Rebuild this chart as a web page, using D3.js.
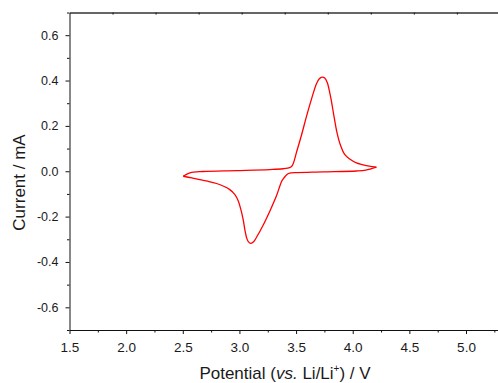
<!DOCTYPE html>
<html>
<head>
<meta charset="utf-8">
<script src="https://cdn.jsdelivr.net/npm/d3@7"></script>
<style>
    body { margin: 0; background: #fff; }
    svg { display: block; }
    text { font-family: "Liberation Sans", Arial, sans-serif; fill: #1a1a1a; }
</style>
</head>
<body>
<svg id="chart" width="498" height="383"></svg>
<script>
// Cyclic voltammogram
// anodic sweep (left tip -> right tip)
const anodicPotential = [2.504, 2.563, 2.680, 2.974, 3.268, 3.385, 3.444, 3.462, 3.476, 3.503, 3.548, 3.592, 3.636, 3.680, 3.705, 3.729, 3.753, 3.775, 3.806, 3.832, 3.859, 3.885, 3.929, 3.973, 4.033, 4.121, 4.209];
const anodicCurrent   = [-0.022, -0.007, -0.001, 0.003, 0.0075, 0.011, 0.016, 0.022, 0.035, 0.082, 0.160, 0.242, 0.318, 0.386, 0.408, 0.415, 0.411, 0.391, 0.325, 0.250, 0.175, 0.125, 0.074, 0.054, 0.037, 0.025, 0.018];

// cathodic sweep (right tip -> left tip)
const cathodicPotential = [4.209, 4.115, 4.033, 3.738, 3.503, 3.444, 3.425, 3.405, 3.385, 3.371, 3.327, 3.268, 3.209, 3.151, 3.125, 3.100, 3.078, 3.063, 3.048, 3.033, 3.010, 2.989, 2.960, 2.915, 2.860, 2.798, 2.720, 2.651, 2.580, 2.504];
const cathodicCurrent   = [0.018, 0.005, 0.001, -0.003, -0.006, -0.008, -0.012, -0.022, -0.035, -0.046, -0.108, -0.176, -0.238, -0.291, -0.311, -0.318, -0.310, -0.293, -0.258, -0.213, -0.164, -0.130, -0.103, -0.081, -0.066, -0.054, -0.044, -0.037, -0.029, -0.022];

const xTicks = [1.5, 2.0, 2.5, 3.0, 3.5, 4.0, 4.5, 5.0];
const xMinorTicks = [1.75, 2.25, 2.75, 3.25, 3.75, 4.25, 4.75, 5.25];
const yTicks = [-0.6, -0.4, -0.2, 0.0, 0.2, 0.4, 0.6];
const yMinorTicks = [-0.7, -0.5, -0.3, -0.1, 0.1, 0.3, 0.5, 0.7];

const svg = d3.select('#chart');
const plotLeft = 69.5, plotRight = 500, plotTop = 12.5, plotBottom = 330;

const x = d3.scaleLinear().domain([1.5, 5.3]).range([plotLeft, plotRight]);
const y = d3.scaleLinear().domain([-0.7, 0.7]).range([plotBottom, plotTop]);
// top frame line carries its own evenly spaced ticks
const xTop = d3.scaleLinear().domain([0, 10]).range([plotLeft, plotRight]);

// Top frame
const topAxis = svg.append('g')
    .attr('transform', `translate(0,${plotTop})`)
    .call(d3.axisBottom(xTop).tickValues(d3.range(1, 10)).tickSize(2).tickSizeOuter(0).tickFormat(''));
topAxis.select('.domain').attr('stroke', '#666').attr('stroke-width', 2);
topAxis.selectAll('.tick line').attr('stroke', '#222').attr('stroke-width', 1.2);

// Bottom axis
const xAxis = svg.append('g')
    .attr('transform', `translate(0,${plotBottom})`)
    .call(d3.axisBottom(x).tickValues(xTicks).tickSize(4).tickSizeOuter(0).tickPadding(8)
        .tickFormat(d => d.toFixed(1)));
xAxis.selectAll('text').attr('font-size', 13.5).attr('font-family', '"Liberation Sans", Arial, sans-serif').attr('fill', '#1a1a1a');
svg.append('g')
    .attr('transform', `translate(0,${plotBottom})`)
    .call(d3.axisBottom(x).tickValues(xMinorTicks).tickSize(2.5).tickFormat(''))
    .select('.domain').remove();

// Left axis
const yAxis = svg.append('g')
    .attr('transform', `translate(${plotLeft},0)`)
    .call(d3.axisLeft(y).tickValues(yTicks).tickSize(4).tickSizeOuter(0).tickPadding(7)
        .tickFormat(d => d.toFixed(1)));
yAxis.selectAll('text').attr('font-size', 12.5).attr('font-family', '"Liberation Sans", Arial, sans-serif').attr('fill', '#1a1a1a');
svg.append('g')
    .attr('transform', `translate(${plotLeft},0)`)
    .call(d3.axisLeft(y).tickValues(yMinorTicks).tickSize(2.5).tickFormat(''))
    .select('.domain').remove();

svg.selectAll('.tick line, .domain').filter(function() { return this.getAttribute('stroke') === 'currentColor'; })
    .attr('stroke', '#111');

// Axis titles
const xTitle = svg.append('text')
    .attr('x', 285)
    .attr('y', 378.5)
    .attr('text-anchor', 'middle')
    .attr('font-size', 17);
xTitle.append('tspan').text('Potential (');
xTitle.append('tspan').attr('font-style', 'italic').text('vs.');
xTitle.append('tspan').text(' Li/Li');
xTitle.append('tspan').attr('font-size', 10).attr('dy', -7).text('+');
xTitle.append('tspan').attr('dy', 7).text(') / V');

svg.append('text')
    .attr('transform', 'translate(25,182.5) rotate(-90)')
    .attr('text-anchor', 'middle')
    .attr('font-size', 17)
    .text('Current / mA');

// CV trace
const line = d3.line()
    .x(d => x(d[0]))
    .y(d => y(d[1]))
    .curve(d3.curveCatmullRom.alpha(0.5));

const sweeps = [
    d3.zip(anodicPotential, anodicCurrent),
    d3.zip(cathodicPotential, cathodicCurrent)
];

svg.append('g').selectAll('path')
    .data(sweeps)
    .enter()
    .append('path')
    .attr('d', line)
    .attr('fill', 'none')
    .attr('stroke', '#ff0000')
    .attr('stroke-width', 1.3)
    .attr('stroke-linejoin', 'round');
</script>
</body>
</html>
